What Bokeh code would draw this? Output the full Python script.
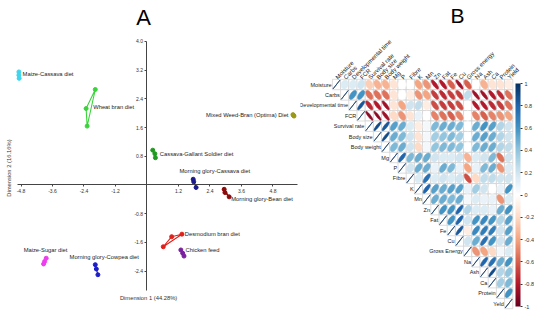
import numpy as np
from bokeh.plotting import figure
from bokeh.layouts import row
from bokeh.models import (LinearAxis, FixedTicker, PrintfTickFormatter, Range1d,
                          ColumnDataSource, LinearColorMapper, ColorBar)
from bokeh.transform import linear_cmap
from bokeh.embed import file_html
from bokeh.resources import INLINE
from bokeh.core.properties import value

# ---------------- Panel A data (MCA-like ordination) ----------------
diet_names = ["Maize-Cassava diet", "Wheat bran diet", "Mixed Weed-Bran (Optima) Diet",
              "Cassava-Gallant Soldier diet", "Morning glory-Cassava diet",
              "Morning glory-Bean diet", "Desmodium bran diet", "Chicken feed",
              "Maize-Sugar diet", "Morning glory-Cowpea diet"]
dim1_points = [[-4.88, -4.88, -4.87], [-1.97, -2.32, -2.28], [5.56, 5.60, 5.58],
               [0.22, 0.30, 0.32], [1.76, 1.78, 1.87], [2.94, 2.97, 3.13],
               [0.62, 0.94, 1.33], [1.29, 1.36, 1.41], [-3.84, -3.90, -3.94],
               [-1.97, -1.93, -1.87]]
dim2_points = [[3.15, 3.06, 2.97], [2.66, 2.13, 1.64], [1.96, 1.92, 1.94],
               [0.97, 0.87, 0.76], [0.16, 0.09, -0.07], [-0.12, -0.21, -0.33],
               [-1.72, -1.44, -1.37], [-1.81, -1.90, -1.98], [-2.04, -2.13, -2.20],
               [-2.22, -2.34, -2.50]]
x_ticks = [-4.8, -3.6, -2.4, -1.2, 1.2, 2.4, 3.6, 4.8]
y_ticks = [-2.4, -1.6, -0.8, 0.8, 1.6, 2.4, 3.2, 4.0]

# ---------------- Panel B data (correlation matrix, upper triangle) ----------------
row_labels = ["Moisture", "Carbs", "Developmental time", "FCR", "Survival rate", "Body size",
              "Body weight", "Mg", "P", "Fibre", "K", "Mn", "Zn", "Fat", "Fe", "Cu",
              "Gross Energy", "Na", "Ash", "Ca", "Protein", "Yeld"]
col_labels = ["Moisture", "Carbs", "Developmental time", "FCR", "Survival rate", "Body size",
              "Body weight", "Mg", "P", "Fibre", "K", "Mn", "Zn", "Fat", "Fe", "Cu",
              "Gross energy", "Na", "Ash", "Ca", "Protein", "Yield"]
r_moisture = [0.15, 0.15, 0.2, -0.25, -0.35, -0.35, -0.15, 0.0, 0.0, -0.4, -0.45, -0.8, -0.8, -0.6, -0.85, -0.6, 0.0, -0.35, -0.15, -0.15, -0.1]
r_carbs = [0.6, 0.6, -0.55, -0.55, -0.55, -0.15, 0.0, -0.1, -0.45, -0.4, -0.7, -0.75, -0.7, -0.7, 0.25, -0.85, -0.85, -0.8, -0.75, -0.55]
r_devtime = [0.85, -0.75, -0.8, -0.85, -0.15, -0.4, 0.2, 0.25, -0.1, -0.65, -0.7, -0.7, -0.65, 0.0, -0.8, -0.8, -0.75, -0.7, -0.55]
r_fcr = [-0.9, -0.9, -0.85, -0.2, -0.45, -0.15, 0.1, 0.0, -0.5, -0.55, -0.6, -0.5, 0.0, -0.5, -0.6, -0.5, -0.45, -0.4]
r_survival = [0.9, 0.85, 0.55, 0.5, 0.15, -0.1, 0.05, 0.45, 0.5, 0.5, 0.45, 0.0, 0.5, 0.6, 0.55, 0.3, 0.2]
r_bodysize = [0.9, 0.5, 0.45, 0.2, -0.15, 0.05, 0.35, 0.4, 0.45, 0.35, 0.0, 0.5, 0.55, 0.5, 0.3, 0.2]
r_bodyweight = [0.45, 0.5, 0.2, -0.2, 0.05, 0.4, 0.45, 0.45, 0.4, 0.0, 0.45, 0.5, 0.5, 0.3, 0.25]
r_mg = [0.8, 0.45, 0.5, 0.5, 0.2, 0.15, 0.15, 0.2, -0.35, 0.15, 0.2, 0.45, -0.55, 0.2]
r_p = [0.2, 0.5, 0.5, 0.1, 0.5, 0.45, 0.1, -0.4, 0.1, 0.45, 0.5, -0.45, 0.15]
r_fibre = [0.15, 0.75, 0.15, 0.2, 0.15, 0.2, -0.65, -0.2, 0.25, 0.25, 0.2, 0.2]
r_k = [0.8, 0.55, 0.5, 0.55, 0.55, 0.1, 0.35, 0.2, 0.0, 0.1, 0.6]
r_mn = [0.5, 0.5, 0.45, 0.5, 0.05, 0.15, 0.1, 0.1, -0.45, 0.15]
r_zn = [0.6, 0.6, 0.8, 0.3, 0.15, 0.15, 0.1, 0.5, 0.6]
r_fat = [0.6, 0.8, 0.2, 0.6, 0.65, 0.6, 0.3, 0.55]
r_fe = [0.85, -0.1, 0.65, 0.7, 0.7, 0.2, 0.55]
r_cu = [0.2, 0.5, 0.75, 0.6, 0.2, 0.5]
r_grossenergy = [-0.45, -0.4, -0.2, 0.05, 0.15]
r_na = [0.8, 0.75, 0.5, 0.6]
r_ash = [0.9, 0.3, 0.4]
r_ca = [0.35, 0.45]
r_protein = [0.6]
r_yield = []
cb_ticks = [-1, -0.8, -0.6, -0.4, -0.2, 0, 0.2, 0.4, 0.6, 0.8, 1]

upper_rows = [r_moisture, r_carbs, r_devtime, r_fcr, r_survival, r_bodysize, r_bodyweight,
              r_mg, r_p, r_fibre, r_k, r_mn, r_zn, r_fat, r_fe, r_cu, r_grossenergy,
              r_na, r_ash, r_ca, r_protein, r_yield]

# ---------------- styles ----------------
FONT = value("Liberation Sans")
diet_colors = ["#3ed6ee", "#3ad43a", "#9a9a14", "#1f9a1f", "#1a1a8c", "#8b0a0a",
               "#e0201a", "#7a1fa0", "#ee3cee", "#1e1ec8"]
# label anchor positions (layout), in data units of panel A
label_x = [-4.74, -2.05, 5.39, 0.49, 1.24, 3.21, 1.44, 1.47, -4.70, -2.95]
label_y = [3.08, 2.17, 1.96, 0.87, 0.38, -0.38, -1.36, -1.82, -1.80, -2.01]
label_align = ["left", "left", "right", "left", "left", "left", "left", "left", "left", "left"]

# ================= Panel A =================
pA = figure(width=300, height=311, x_range=Range1d(-5.581, 5.848), y_range=Range1d(-3.524, 5.139),
            output_backend="svg", toolbar_location=None, x_axis_type=None, y_axis_type=None,
            min_border=0, outline_line_color=None)

axis_style = dict(major_tick_out=2, major_tick_in=0,
                  minor_tick_out=0, minor_tick_in=0, major_label_text_font_size="5px",
                  major_label_text_font="Liberation Sans", major_label_text_color="#333333",
                  major_label_standoff=2, axis_line_color="#444444",
                  major_tick_line_color="#444444")
xax = LinearAxis(fixed_location=0, bounds=(-4.93, 5.73), ticker=FixedTicker(ticks=x_ticks),
                 formatter=PrintfTickFormatter(format="%.1f"), **axis_style)
pA.add_layout(xax, "below")
yax = LinearAxis(fixed_location=0, bounds=(-2.94, 4.0), ticker=FixedTicker(ticks=y_ticks),
                 formatter=PrintfTickFormatter(format="%.1f"), **axis_style)
pA.add_layout(yax, "left")

hx = [xs + [xs[0]] for xs in dim1_points]
hy = [ys + [ys[0]] for ys in dim2_points]
pA.multi_line(xs=hx, ys=hy, line_color=diet_colors, line_width=1.1)
for k in range(len(diet_names)):
    pA.scatter(dim1_points[k], dim2_points[k], size=4, color=diet_colors[k])

pA.text(x=label_x, y=label_y, text=diet_names, text_align=label_align, text_baseline="middle",
        text_font=FONT, text_font_size=value("5.8px"), text_color="#222222")
pA.text(x=[0.06], y=[-3.16], text=["Dimension 1 (44.28%)"], text_align="center",
        text_baseline="middle", text_font=FONT, text_font_size=value("5.8px"), text_color="#333333")
pA.text(x=[-5.25], y=[0.47], text=["Dimension 2 (16.16%)"], angle=np.pi / 2, text_align="center",
        text_baseline="middle", text_font=FONT, text_font_size=value("5.8px"), text_color="#333333")
pA.text(x=[-0.13], y=[4.67], text=["A"], text_align="center", text_baseline="middle",
        text_font=FONT, text_font_size=value("22px"), text_color="#000000")

# ================= Panel B =================
n = len(row_labels)
pB = figure(width=234, height=311, x_range=Range1d(-4.390, 24.146), y_range=Range1d(21.764, -8.054),
            output_backend="svg", toolbar_location=None, x_axis_type=None, y_axis_type=None,
            min_border=0, outline_line_color=None)

anchors = ["#67001f", "#b2182b", "#d6604d", "#f4a582", "#fddbc7", "#ffffff",
           "#d1e5f0", "#92c5de", "#4393c3", "#2166ac", "#053061"]
def hex2rgb(h):
    return [int(h[i:i + 2], 16) for i in (1, 3, 5)]
arr = np.array([hex2rgb(h) for h in anchors], dtype=float)
tt = np.linspace(0, 1, 201)
pos = np.linspace(0, 1, len(anchors))
palette = ["#%02x%02x%02x" % tuple(int(round(np.interp(t, pos, arr[:, c]))) for c in range(3)) for t in tt]

cx, cy, exs, eys, rv = [], [], [], [], []
kk = np.linspace(0, 2 * np.pi, 60)
for i in range(n):
    for j in range(i, n):
        r = 1.0 if i == j else upper_rows[i][j - i - 1]
        cx.append(j)
        cy.append(i)
        a = np.arccos(r)
        ex = 0.85 * np.cos(kk + a / 2) / 2
        ey = 0.85 * np.cos(kk - a / 2) / 2
        exs.append(list(j + ex))
        eys.append(list(i - ey))
        rv.append(r)

pB.rect(x=cx, y=cy, width=1, height=1, fill_color="white", line_color="#cfcfcf", line_width=0.7)
src = ColumnDataSource(dict(xs=exs, ys=eys, r=rv))
cmap = linear_cmap("r", palette, -1, 1)
pB.patches(xs="xs", ys="ys", source=src, fill_color=cmap, line_color=cmap, line_width=0.8)

pB.text(x=[i - 0.6 for i in range(n)], y=list(range(n)), text=row_labels, text_align="right",
        text_baseline="middle", text_font=FONT, text_font_size=value("5.5px"), text_color="#222222")
pB.text(x=list(range(n)), y=[-0.6] * n, text=col_labels, angle=np.pi / 4, text_align="left",
        text_baseline="middle", text_font=FONT, text_font_size=value("6px"), text_color="#222222")
pB.text(x=[14.76], y=[-6.57], text=["B"], text_align="center", text_baseline="middle",
        text_font=FONT, text_font_size=value("21px"), text_color="#000000")

mapper = LinearColorMapper(palette=palette, low=-1, high=1)
cb = ColorBar(color_mapper=mapper, location=(215, 5), width=5, height=223, padding=0,
              ticker=FixedTicker(ticks=cb_ticks), formatter=PrintfTickFormatter(format="%g"),
              major_label_text_font_size="5.5px", major_label_text_font="Liberation Sans",
              major_label_text_color="#333333", major_tick_line_color="#333333",
              major_tick_in=0, major_tick_out=2, minor_tick_line_color=None,
              bar_line_color=None, border_line_color=None, background_fill_color=None,
              label_standoff=2)
pB.add_layout(cb)

layout = row(pA, pB)
open("out.html", "w").write(file_html(layout, INLINE))
